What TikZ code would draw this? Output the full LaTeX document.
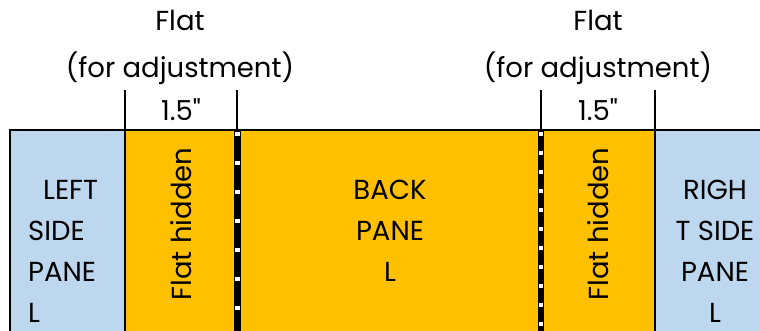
\documentclass[tikz,border=0pt]{standalone}
\usepackage{fontspec}
\setmainfont{Poppins}
\newfontfamily\plainquote{Poppins}
\definecolor{sideblue}{HTML}{BDD7EE}
\definecolor{backorange}{HTML}{FFC000}
\begin{document}
\begin{tikzpicture}[x=1pt, y=-1pt,
    lbl/.style={inner sep=0, font=\fontsize{27.5}{41}\selectfont, align=center},
    edge/.style={line width=2pt}]

    \useasboundingbox (0, 0) rectangle (760, 331);

    % Panels
    \fill[sideblue] (10, 130) rectangle (125, 331);
    \fill[backorange] (125, 130) rectangle (655, 331);
    \fill[sideblue] (655, 130) rectangle (760, 331);

    % Outline
    \draw[edge] (10, 331) -- (10, 130) -- (760, 130);
    \draw[edge] (125, 90) -- (125, 331);
    \draw[edge] (655, 90) -- (655, 331);
    \draw[edge] (237, 90) -- (237, 130);
    \draw[edge] (541, 90) -- (541, 130);

    % Fold lines
    \draw[line width=7pt] (237, 131) -- (237, 331);
    \draw[white, line width=5pt, dash pattern=on 4pt off 25pt, dash phase=-1pt] (237, 131) -- (237, 331);
    \draw[line width=6pt] (541, 131) -- (541, 331);
    \draw[white, line width=4pt, dash pattern=on 4pt off 15pt, dash phase=-1pt] (541, 131) -- (541, 331);

    % Labels
    \node[lbl] (flatL) at (180, 20) {Flat};
    \node[lbl] (adjL) at (180, 68) {(for adjustment)};
    \node[lbl] (widthL) at (181, 110) {1.5{\plainquote"}};
    \node[lbl] (flatR) at (598, 20) {Flat};
    \node[lbl] (adjR) at (598, 68) {(for adjustment)};
    \node[lbl] (widthR) at (598, 110) {1.5{\plainquote"}};

    \node[lbl, rotate=90] (hiddenL) at (181, 224) {Flat hidden};
    \node[lbl, rotate=90] (hiddenR) at (598, 224) {Flat hidden};

    \node[lbl] (back) at (390, 231) {BACK\\PANE\\L};
    \node[lbl, align=left, anchor=west] (left) at (28, 251) {\hspace{15pt}LEFT\\SIDE\\PANE\\L};
    \node[lbl] (right) at (715, 251) {RIGH\\T SIDE\\PANE\\L};

\end{tikzpicture}
\end{document}
